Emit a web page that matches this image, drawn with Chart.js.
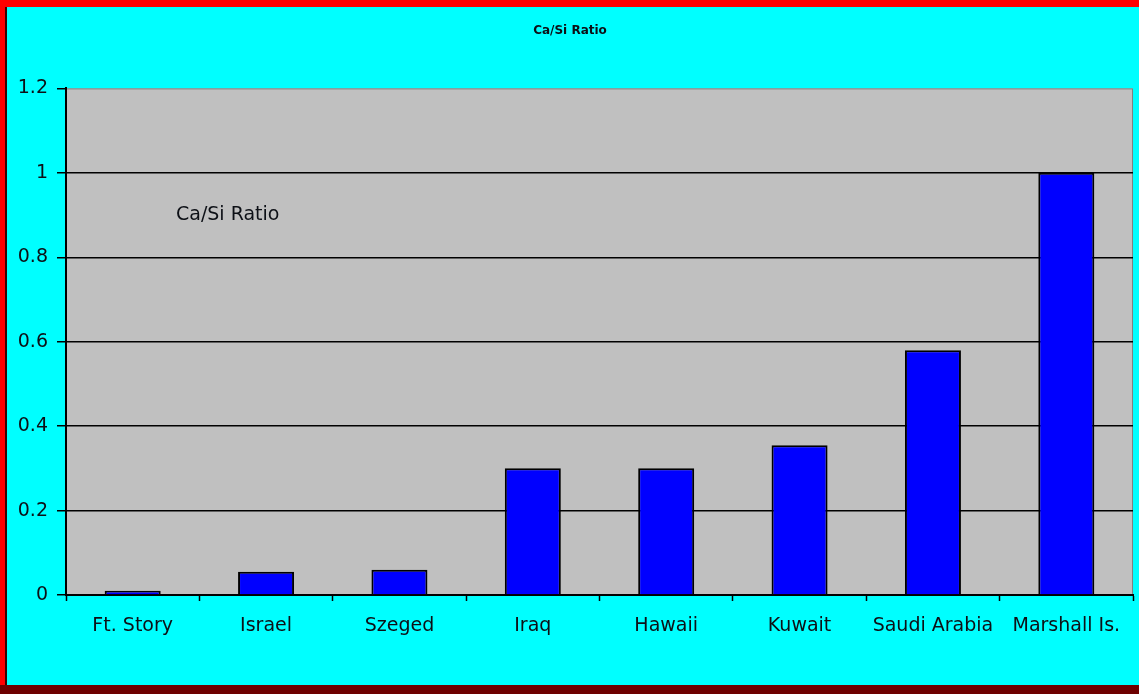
<!DOCTYPE html>
<html>
<head>
<meta charset="utf-8">
<title>Ca/Si Ratio</title>
<script src="https://cdn.jsdelivr.net/npm/chart.js@4"></script>
<style>
  html, body { margin: 0; padding: 0; overflow: hidden; }
  #frame {
    position: absolute; left: 0; top: 0;
    width: 1139px; height: 694px;
    background: #ff0000;
  }
  #bottomEdge {
    position: absolute; left: 0; top: 685px;
    width: 1139px; height: 9px;
    background: #6e0000;
  }
  #panel {
    position: absolute; left: 7px; top: 7px;
    width: 1132px; height: 678px;
    background: #00ffff;
    box-shadow: -2px 0 0 #3a0000;
  }
  canvas { display: block; }
</style>
</head>
<body>
<div id="frame">
  <div id="bottomEdge"></div>
  <div id="panel">
    <canvas id="ratioChart" width="1132" height="678"></canvas>
  </div>
</div>

<script>
// ==============================
// DATA
// ==============================
const sites = ["Ft. Story", "Israel", "Szeged", "Iraq", "Hawaii", "Kuwait", "Saudi Arabia", "Marshall Is."];
const caSiRatio = [0.01, 0.055, 0.06, 0.30, 0.30, 0.355, 0.58, 1.0];
const yTicks = [0, 0.2, 0.4, 0.6, 0.8, 1, 1.2];

const chartTitle = "Ca/Si Ratio";
const seriesName = "Ca/Si Ratio";

const labelFont = { family: "'DejaVu Sans', sans-serif", size: 19 };
const inkColor = "#0d1016";

// ==============================
// PLOT AREA + SERIES LABEL
// ==============================
const plotArea = {
  id: "plotArea",
  beforeDraw(chart) {
    const { ctx, chartArea: a } = chart;
    ctx.save();
    ctx.fillStyle = "#c0c0c0";
    ctx.fillRect(a.left, a.top, a.right - a.left, a.bottom - a.top);
    ctx.strokeStyle = "#808080";
    ctx.lineWidth = 1;
    ctx.strokeRect(a.left + 0.5, a.top + 0.5, a.right - a.left - 1, a.bottom - a.top - 1);
    ctx.restore();
  },
  afterDraw(chart) {
    const { ctx, chartArea: a } = chart;
    ctx.save();
    ctx.font = `${labelFont.size}px ${labelFont.family}`;
    ctx.fillStyle = inkColor;
    ctx.textAlign = "left";
    ctx.textBaseline = "middle";
    ctx.fillText(seriesName, a.left + 110, a.top + 127);
    ctx.restore();
  }
};

// ==============================
// CHART
// ==============================
const ctx = document.getElementById("ratioChart");

new Chart(ctx, {
  type: "bar",
  data: {
    labels: sites,
    datasets: [
      {
        label: seriesName,
        data: caSiRatio,
        backgroundColor: "#0000ff",
        borderColor: "#000000",
        borderWidth: 2,
        categoryPercentage: 1,
        barPercentage: 0.42
      }
    ]
  },
  options: {
    responsive: false,
    animation: false,
    layout: { padding: { left: 0, right: 6, top: 0, bottom: 0 } },
    plugins: {
      legend: { display: false },
      tooltip: { enabled: false },
      title: {
        display: true,
        text: chartTitle,
        color: inkColor,
        font: { family: "'DejaVu Sans', sans-serif", size: 12, weight: "bold" },
        padding: { top: 17, bottom: 50 }
      }
    },
    scales: {
      x: {
        grid: {
          offset: true,
          drawOnChartArea: false,
          drawTicks: true,
          tickLength: 6,
          tickColor: "#000000",
          tickWidth: 1.5
        },
        border: { display: true, color: "#000000", width: 2 },
        ticks: {
          color: inkColor,
          font: labelFont,
          padding: 14,
          maxRotation: 0,
          autoSkip: false
        },
        afterFit(scale) { scale.height = 90; }
      },
      y: {
        min: 0,
        max: 1.2,
        afterBuildTicks(scale) {
          scale.ticks = yTicks.map(v => ({ value: v }));
        },
        grid: {
          color: c => (c.tick && c.tick.value > 0 && c.tick.value < 1.2) ? "#000000" : "rgba(0,0,0,0)",
          lineWidth: 1.5,
          tickColor: "#000000",
          tickWidth: 1.5,
          tickLength: 9
        },
        border: { display: true, color: "#000000", width: 2 },
        ticks: {
          color: inkColor,
          font: labelFont,
          padding: 9,
          callback: v => String(v)
        },
        afterFit(scale) { scale.width = 59; }
      }
    }
  },
  plugins: [plotArea]
});
</script>
</body>
</html>
